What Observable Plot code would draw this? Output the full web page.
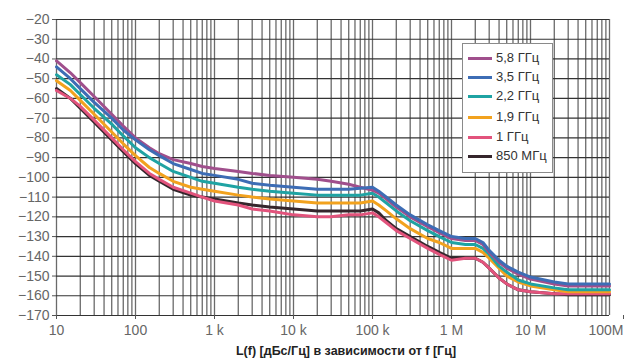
<!DOCTYPE html>
<html><head><meta charset="utf-8">
<script src="https://cdn.jsdelivr.net/npm/d3@7"></script>
<script src="https://cdn.jsdelivr.net/npm/@observablehq/plot@0.6"></script>
<style>
body{margin:0;background:#fff;}
#wrap{position:relative;width:624px;height:364px;overflow:hidden;font-family:"Liberation Sans Narrow","Liberation Sans",Arial,sans-serif;}
#legend{position:absolute;left:462px;top:43px;width:89px;height:128px;border:1px solid #8a8a8a;background:#fff;}
.item{position:absolute;left:0;height:16px;width:89px;}
.item .sw{position:absolute;left:5px;top:7px;width:24px;height:3px;}
.item .tx{position:absolute;left:33px;top:0;font-size:13px;color:#333;line-height:16px;white-space:nowrap;}
#caption{position:absolute;left:0;top:344px;width:692px;text-align:center;font-weight:bold;font-size:12.5px;color:#222;}
</style></head><body><div id="wrap"></div><script>
const freqs = [10,15,20,30,50,70,100,150,200,300,500,700,1e3,2e3,3e3,5e3,1e4,2e4,3e4,5e4,7e4,1e5,1.2e5,1.5e5,2e5,3e5,5e5,7e5,1e6,1.5e6,2e6,2.5e6,3e6,4e6,5e6,7e6,1e7,2e7,3e7,5e7,1e8];
const s5_8 = [-41,-47,-52,-59,-68,-74,-80,-85,-88,-91,-93,-94.5,-95.5,-97,-98,-99,-100,-101,-102,-103.5,-105,-106.5,-108,-111,-115,-120,-125,-128,-131,-132,-132,-134,-138,-143,-146,-149,-151.5,-154,-155,-155,-155];
const s3_5 = [-44,-50,-55,-62,-70,-76,-81,-86,-89,-93,-96,-98,-99,-101,-103,-104,-105,-106,-106,-106,-105.5,-105,-107,-110,-114,-119,-124,-127,-130,-131,-131,-133,-137,-142,-145,-148,-150.5,-153,-154,-154,-154];
const s2_2 = [-48,-53,-58,-65,-73,-79,-85,-90,-93,-97,-100,-102,-103,-105,-106,-107,-108,-109,-109,-109,-109,-108,-110,-113,-117,-122,-127,-130,-133,-134,-134,-136,-139,-145,-148,-152,-154,-156,-157,-157,-157];
const s1_9 = [-51,-56,-61,-68,-77,-83,-89,-95,-98,-102,-105,-106,-107,-109,-110,-111,-112,-113,-113,-113,-113,-112,-114,-117,-121,-126,-131,-133,-136,-136,-136,-138,-141,-146,-150,-153,-155,-157,-158,-158,-158];
const s1_0 = [-56,-60,-64,-71,-80,-86,-92,-98,-101,-105,-108,-110,-112,-114,-116,-117,-119,-120,-120,-119,-119,-118,-120,-123,-127,-131,-136,-139,-142,-141,-141,-143,-146,-151,-154,-157,-158,-159,-159,-159,-159];
const s850 = [-55,-60,-65,-72,-81,-87,-93,-99,-102,-106,-109,-110,-111,-113,-114,-115,-116,-117,-117,-117,-117,-116,-118,-122,-126,-130,-135,-138,-141,-141,-141,-143,-146,-151,-154,-157,-158,-159,-159.5,-159.5,-159.5];

const seriesNames = ["5,8 ГГц","3,5 ГГц","2,2 ГГц","1,9 ГГц","1 ГГц","850 МГц"];
const seriesValues = [s5_8, s3_5, s2_2, s1_9, s1_0, s850];
const seriesColors = ["#a04f8c","#3d6db5","#1fa3a3","#f2a21e","#e2537c","#35262c"];

const xTicks = [10,100,1e3,1e4,1e5,1e6,1e7,1e8];
const xTickLabels = ["10","100","1 k","10 k","100 k","1 M","10 M","100M"];
const yTicks = d3.range(-170,-19,10);

const data = seriesNames.flatMap((name,k)=>freqs.map((f,i)=>({name, f, v: seriesValues[k][i]})));
const drawOrder = [5,4,3,2,0,1];
const gridX = d3.scaleLog().domain([10,1e8]).ticks();
const fmtX = d=>xTickLabels[xTicks.indexOf(d)];

const chart = Plot.plot({
  width:624, height:342,
  marginLeft:56, marginRight:15, marginTop:19, marginBottom:27,
  style:{fontFamily:'"Liberation Sans Narrow","Liberation Sans",Arial,sans-serif', background:"#fff"},
  x:{type:"log", domain:[10,1e8]},
  y:{domain:[-170,-20]},
  marks:[
    Plot.ruleX(gridX,{stroke:"#6a6a6a",strokeWidth:1.3}),
    Plot.ruleY(yTicks,{stroke:"#333",strokeWidth:1.2}),
    ...drawOrder.map(k=>Plot.line(data.filter(d=>d.name===seriesNames[k]),{x:"f",y:"v",stroke:seriesColors[k],strokeWidth:3,curve:"linear"})),
    Plot.axisX({ticks:xTicks.slice(0,-1), tickFormat:fmtX, tickSize:4, tickPadding:6, fontSize:14, fill:"#666", stroke:"#555", label:null}),
    Plot.axisX({ticks:xTicks.slice(-1), tickFormat:fmtX, tickSize:4, tickPadding:6, fontSize:14, fill:"#666", stroke:"#555", label:null, textAnchor:"end", dx:14}),
    Plot.axisY({ticks:yTicks, tickSize:4, tickPadding:3, fontSize:14, fill:"#666", stroke:"#555", label:null})
  ]
});
const wrap = document.getElementById("wrap");
wrap.appendChild(chart);

const legend = document.createElement("div");
legend.id = "legend";
const tops = [6,25,44,65,85,104];
seriesNames.forEach((n,k)=>{
  const it = document.createElement("div");
  it.className="item"; it.style.top = tops[k]+"px";
  const sw = document.createElement("div"); sw.className="sw"; sw.style.background = seriesColors[k];
  const tx = document.createElement("div"); tx.className="tx"; tx.textContent = n;
  it.appendChild(sw); it.appendChild(tx); legend.appendChild(it);
});
wrap.appendChild(legend);

const cap = document.createElement("div");
cap.id="caption";
cap.textContent = "L(f) [дБс/Гц] в зависимости от f [Гц]";
wrap.appendChild(cap);
</script></body></html>
